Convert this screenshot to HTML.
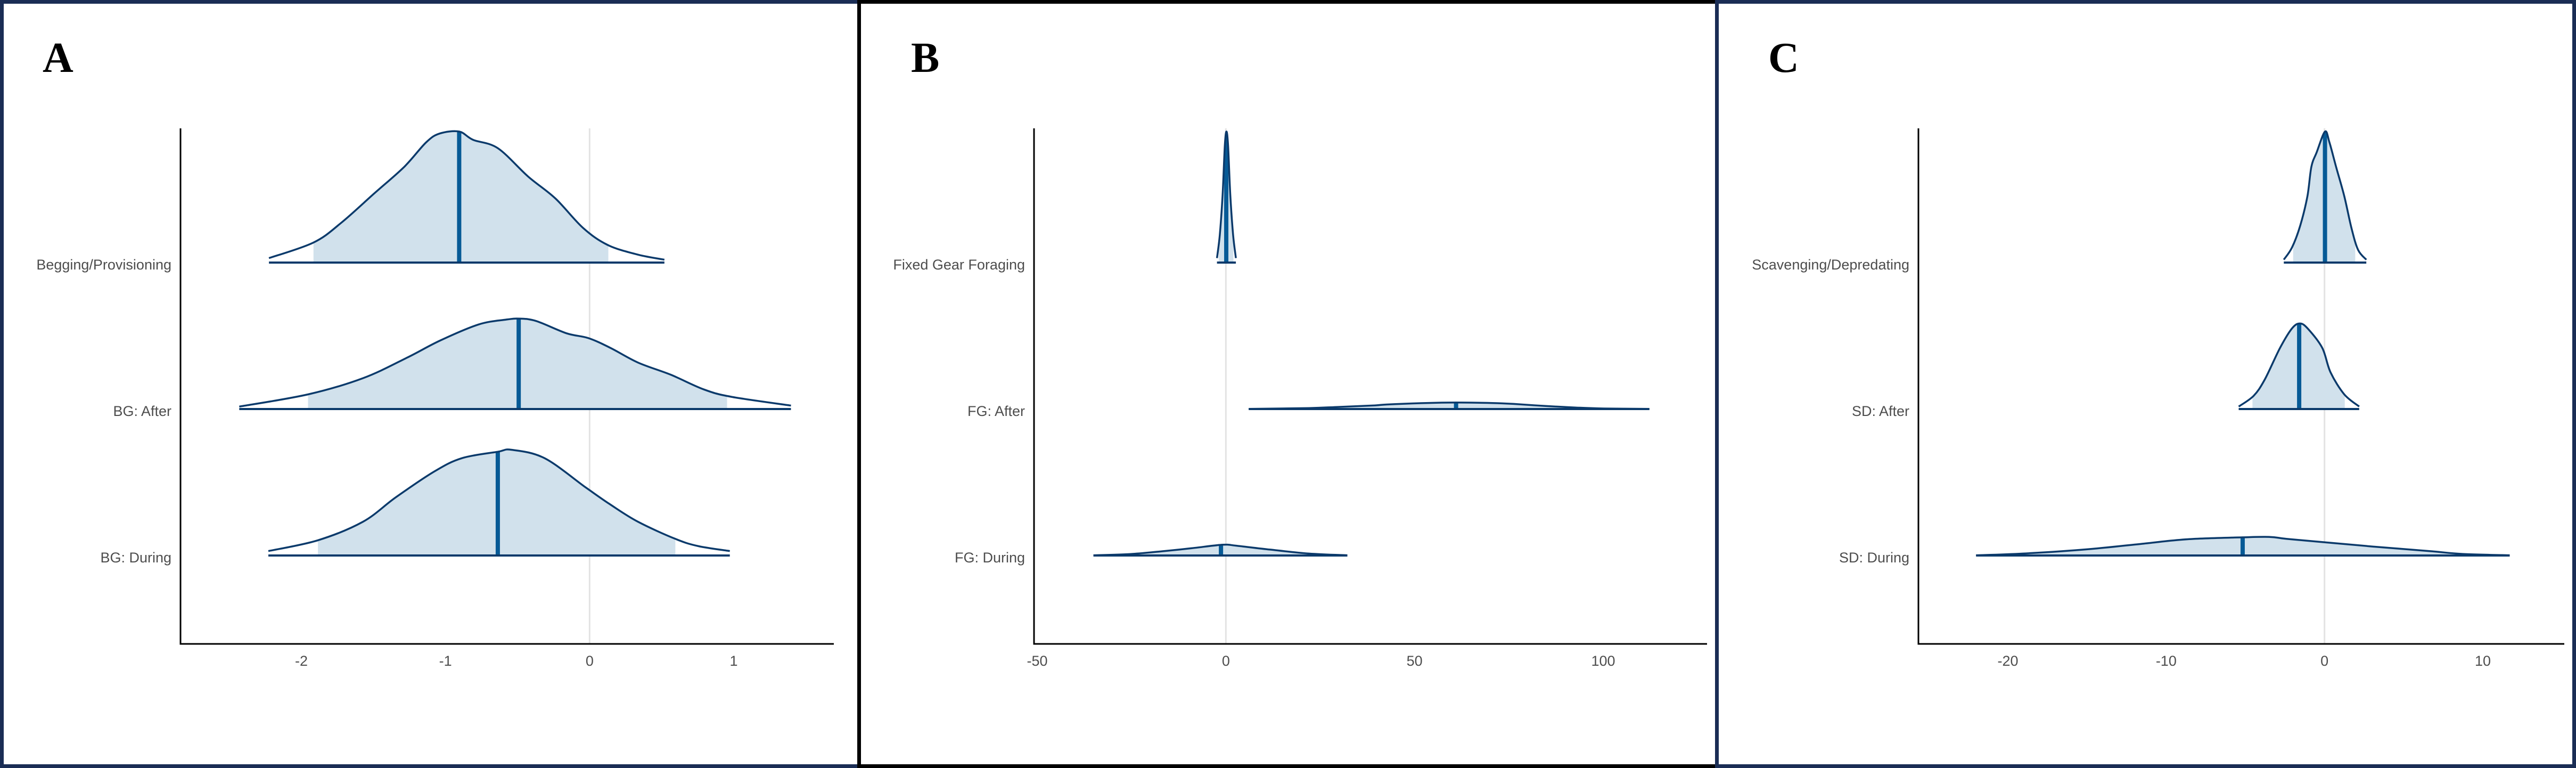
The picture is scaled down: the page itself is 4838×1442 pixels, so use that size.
<!DOCTYPE html>
<html><head><meta charset="utf-8"><style>
html,body{margin:0;padding:0;background:#fff}
svg{display:block}
text{font-family:"Liberation Sans",Arial,sans-serif}
text.serif{font-family:"Liberation Serif","Times New Roman",serif}
</style></head><body>
<svg id="fig" width="4838" height="1442" viewBox="0 0 4838 1442" xmlns="http://www.w3.org/2000/svg">
<rect x="0" y="0" width="4838" height="1442" fill="#fff"/>
</svg>
<script>
// ---------- Panel A data ----------
const catsA = ["Begging/Provisioning","BG: After","BG: During"];
const ticksA = [-2,-1,0,1];
const medA = [-0.905,-0.492,-0.637];
const ciLoA = [-1.916,-1.954,-1.885];
const ciHiA = [0.13,0.954,0.595];
const peakA = [1,0.69,0.807];
const xsA = [
 [-2.225,-1.916,-1.725,-1.496,-1.286,-1.134,-1.04,-0.905,-0.809,-0.637,-0.427,-0.237,-0.046,0.126,0.336,0.519],
 [-2.431,-1.954,-1.573,-1.267,-1.038,-0.771,-0.58,-0.485,-0.37,-0.16,-0.008,0.145,0.336,0.565,0.794,0.985,1.397],
 [-2.229,-1.885,-1.573,-1.344,-1.076,-0.885,-0.637,-0.542,-0.313,-0.027,0.145,0.336,0.595,0.756,0.973]];
const dsA = [
 [0.034,0.153,0.302,0.526,0.731,0.918,0.985,1,0.937,0.873,0.657,0.489,0.265,0.134,0.06,0.022],
 [0.027,0.162,0.341,0.568,0.757,0.935,0.989,1,0.973,0.838,0.784,0.676,0.514,0.378,0.216,0.135,0.038],
 [0.042,0.144,0.319,0.551,0.796,0.921,0.981,1,0.921,0.644,0.481,0.319,0.157,0.088,0.042]];
// ---------- Panel B data ----------
const catsB = ["Fixed Gear Foraging","FG: After","FG: During"];
const ticksB = [-50,0,50,100];
const medB = [0.1,61,-1.3];
const ciLoB = [-1.9,22,-25];
const ciHiB = [2.0,100,22];
const peakB = [1,0.05,0.082];
const xsB = [
 [-2.36,-1.62,-0.88,-0.29,0.15,0.59,1.18,1.92,2.65],
 [6.05,21.98,29.35,38.94,42.63,52.95,61.06,70.65,76.55,84.66,92.77,100.15,112.24],
 [-35.1,-25.2,-16.4,-9.0,-0.9,2.8,11.7,22.0,32.2]];
const dsB = [
 [0.034,0.21,0.51,0.89,1,0.89,0.51,0.21,0.034],
 [0.02,0.15,0.31,0.54,0.69,0.92,1,0.92,0.77,0.46,0.23,0.08,0.02],
 [0.02,0.14,0.41,0.68,1,0.91,0.55,0.18,0.02]];
// ---------- Panel C data ----------
const catsC = ["Scavenging/Depredating","SD: After","SD: During"];
const ticksC = [-20,-10,0,10];
const medC = [0.03,-1.6,-5.17];
const ciLoC = [-1.98,-4.55,-20.1];
const ciHiC = [1.94,1.28,10.4];
const peakC = [1,0.653,0.146];
const xsC = [
 [-2.57,-2.05,-1.53,-1.08,-0.83,-0.49,0.03,0.31,0.73,1.25,1.70,2.12,2.64],
 [-5.42,-4.48,-3.78,-2.81,-2.05,-1.53,-1.01,-0.14,0.38,1.25,2.19],
 [-22.01,-19.06,-14.90,-11.42,-8.65,-5.17,-3.44,-2.40,0.03,3.16,6.63,8.72,11.70]];
const dsC = [
 [0.022,0.116,0.284,0.507,0.731,0.843,1,0.918,0.731,0.507,0.265,0.097,0.022],
 [0.029,0.154,0.343,0.714,0.943,1,0.931,0.714,0.429,0.171,0.029],
 [0.01,0.10,0.33,0.62,0.85,0.95,0.97,0.87,0.69,0.46,0.23,0.08,0.01]];

const NS="http://www.w3.org/2000/svg";
const svg=document.getElementById('fig');
function mk(tag,attrs,parent){const e=document.createElementNS(NS,tag);for(const k in attrs)e.setAttribute(k,attrs[k]);(parent||svg).appendChild(e);return e;}

const panels=[
 {id:'a',letter:'A',cats:catsA,ticks:ticksA,med:medA,lo:ciLoA,hi:ciHiA,peak:peakA,xs:xsA,ds:dsA,
  axX:339,axR:1566,x0v:-2,x0p:566,x1v:1,x1p:1378,lx:80},
 {id:'b',letter:'B',cats:catsB,ticks:ticksB,med:medB,lo:ciLoB,hi:ciHiB,peak:peakB,xs:xsB,ds:dsB,
  axX:1942,axR:3206,x0v:-50,x0p:1948,x1v:100,x1p:3011,lx:1711},
 {id:'c',letter:'C',cats:catsC,ticks:ticksC,med:medC,lo:ciLoC,hi:ciHiC,peak:peakC,xs:xsC,ds:dsC,
  axX:3603,axR:4816,x0v:-20,x0p:3771,x1v:10,x1p:4663,lx:3321}
];
const axTop=241, axBot=1209, baseY=[493,768,1043], peakPx=246;

function smooth(pts){
  let d='M'+pts[0][0]+','+pts[0][1];
  for(let i=0;i<pts.length-1;i++){
    const p0=pts[Math.max(i-1,0)],p1=pts[i],p2=pts[i+1],p3=pts[Math.min(i+2,pts.length-1)];
    const c1x=p1[0]+(p2[0]-p0[0])/6,c1y=p1[1]+(p2[1]-p0[1])/6;
    const c2x=p2[0]-(p3[0]-p1[0])/6,c2y=p2[1]-(p3[1]-p1[1])/6;
    d+=' C'+c1x.toFixed(1)+','+c1y.toFixed(1)+' '+c2x.toFixed(1)+','+c2y.toFixed(1)+' '+p2[0].toFixed(1)+','+p2[1].toFixed(1);
  }
  return d;
}

panels.forEach(P=>{
  const g=mk('g',{});
  
  
  const xs=v=>P.x0p+(v-P.x0v)*(P.x1p-P.x0p)/(P.x1v-P.x0v);
  const zl=mk('line',{x1:xs(0),x2:xs(0),y1:axTop,y2:axBot,stroke:'#e3e3e3','stroke-width':3},g);
  
  
  const ya=mk('line',{x1:P.axX,x2:P.axX,y1:axTop,y2:axBot+1.5,stroke:'#000','stroke-width':3},g);
  
  
  const xa=mk('line',{x1:P.axX-1.5,x2:P.axR,y1:axBot,y2:axBot,stroke:'#000','stroke-width':3},g);
  
  
  P.ticks.forEach(t=>{
    const tx=mk('text',{x:xs(t),y:1250,'text-anchor':'middle','font-size':27,fill:'#4d4d4d'},g);
    tx.textContent=String(t);
    
    
  });
  P.cats.forEach((c,i)=>{
    const by=baseY[i];
    const lab=mk('text',{x:P.axX-17,y:by+13,'text-anchor':'end','font-size':27,fill:'#4d4d4d'},g);
    lab.textContent=c;
    
    
    const pts=P.xs[i].map((v,k)=>[xs(v),by-P.ds[i][k]*P.peak[i]*peakPx]);
    const curve=smooth(pts);
    const area=curve+' L'+pts[pts.length-1][0].toFixed(1)+','+by+' L'+pts[0][0].toFixed(1)+','+by+' Z';
    const cid='clip-'+P.id+i;
    const cp=mk('clipPath',{id:cid},g);
    mk('rect',{x:xs(P.lo[i]),y:by-400,width:xs(P.hi[i])-xs(P.lo[i]),height:400},cp);
    const sh=mk('path',{d:area,fill:'#d1e1ec','clip-path':'url(#'+cid+')'},g);
    
    
    const mid='clipm-'+P.id+i;
    const cpm=mk('clipPath',{id:mid},g);
    mk('path',{d:area},cpm);
    const ml=mk('line',{x1:xs(P.med[i]),x2:xs(P.med[i]),y1:by-400,y2:by,stroke:'#065a96','stroke-width':8,'clip-path':'url(#'+mid+')'},g);
    
    
    const outl=mk('path',{d:curve,fill:'none',stroke:'#0b3a6b','stroke-width':3.5},g);
    
    
    const bl=mk('line',{x1:pts[0][0],x2:pts[pts.length-1][0],y1:by,y2:by,stroke:'#0b3a6b','stroke-width':4},g);
    
    
  });
  const L=mk('text',{x:P.lx,y:135,'font-size':80,'font-weight':'bold',fill:'#000','class':'serif'},g);
  L.textContent=P.letter;
  
  
});
function bar(x,y,w,h,c,n){const r=mk('rect',{x:x,y:y,width:w,height:h,fill:c});}
bar(0,0,1610,7,'#1a2d55','border-a-top');
bar(0,1435,1610,7,'#1a2d55','border-a-bottom');
bar(0,0,7,1442,'#1a2d55','border-a-left');
bar(1610,0,1611,7,'#000','border-b-top');
bar(1610,1435,1611,7,'#000','border-b-bottom');
bar(1610,0,7,1442,'#000','border-b-left');
bar(3221,0,1617,7,'#1a2d55','border-c-top');
bar(3221,1435,1617,7,'#1a2d55','border-c-bottom');
bar(3221,0,7,1442,'#1a2d55','border-c-left');
bar(4831,0,7,1442,'#1a2d55','border-c-right');
</script>
</body></html>
